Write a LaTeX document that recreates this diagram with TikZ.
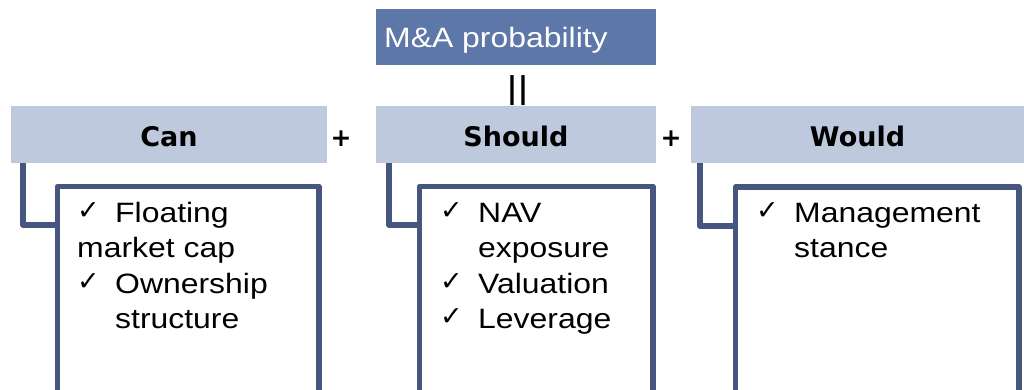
\documentclass[tikz,border=0pt]{standalone}
\usepackage{fontspec}
\setmainfont{Liberation Sans}[FakeStretch=1.14]
\newfontfamily\dv{DejaVu Sans}
\newfontfamily\hdrfont{DejaVu Sans}
\definecolor{topblue}{RGB}{93,119,168}
\definecolor{hdrblue}{RGB}{190,201,222}
\definecolor{edgeblue}{RGB}{70,86,126}
\newcommand\ck{\makebox[38pt][l]{\raisebox{2.5pt}{\dv\fontsize{27}{27}\selectfont ✓}}}
\newcommand\ind{\hspace*{38pt}}
\newcommand\firstln{\rule{0pt}{30pt}}
\begin{document}
\begin{tikzpicture}[x=1pt,y=-1pt,
  hdr/.style={fill=hdrblue, minimum height=57, inner sep=0, text height=23, text depth=0, font=\hdrfont\fontsize{27}{30}\selectfont\bfseries},
  cbox/.style={draw=edgeblue, line width=5.5pt, line join=round, anchor=north west, minimum height=240, inner sep=0},
  ctext/.style={anchor=north west, align=left, inner sep=0, font=\fontsize{28}{35.4}\selectfont},
  conn/.style={draw=edgeblue, line width=5.5pt, line join=round},
  plus/.style={font=\hdrfont\fontsize{25}{28}\selectfont\bfseries, inner sep=0}]
\useasboundingbox (0,0) rectangle (1024,389);
% top box
\node[fill=topblue, minimum width=280, minimum height=56, anchor=north west, inner sep=0] (top) at (376,9) {};
\node[anchor=base west, inner sep=0, text=white, font=\fontsize{28}{30}\selectfont] (toptxt) at (384,47) {M\&A probability};
\node[inner sep=0, font=\hdrfont\fontsize{30}{30}\selectfont\bfseries] (eq) at (517.5,91) {||};
% headers
\node[hdr, minimum width=316] (can) at (169,134.5) {Can};
\node[hdr, minimum width=280] (should) at (516,134.5) {Should};
\node[hdr, minimum width=333] (would) at (857.5,134.5) {Would};
\node[plus] (p1) at (341,139) {+};
\node[plus] (p2) at (671,139) {+};
% content boxes
\node[cbox, minimum width=261.5] (canbox) at (54.75,183.75) {};
\node[cbox, minimum width=233.5] (shouldbox) at (416.75,183.75) {};
\node[cbox, minimum width=283.5] (wouldbox) at (732.75,184.25) {};
% texts
\node[ctext] (cantxt) at (77,192) {\firstln\ck Floating\\market cap\\\ck Ownership\\\ind structure};
\node[ctext] (shouldtxt) at (440,192) {\firstln\ck NAV\\\ind exposure\\\ck Valuation\\\ck Leverage};
\node[ctext] (wouldtxt) at (756,192) {\firstln\ck Management\\\ind stance};
% connectors
\coordinate (cj) at (23,225);
\coordinate (sj) at (389,225);
\coordinate (wj) at (700,226);
\draw[conn] (can.south -| cj) |- (canbox.west |- cj);
\draw[conn] (should.south -| sj) |- (shouldbox.west |- sj);
\draw[conn] (would.south -| wj) |- (wouldbox.west |- wj);
\end{tikzpicture}
\end{document}
